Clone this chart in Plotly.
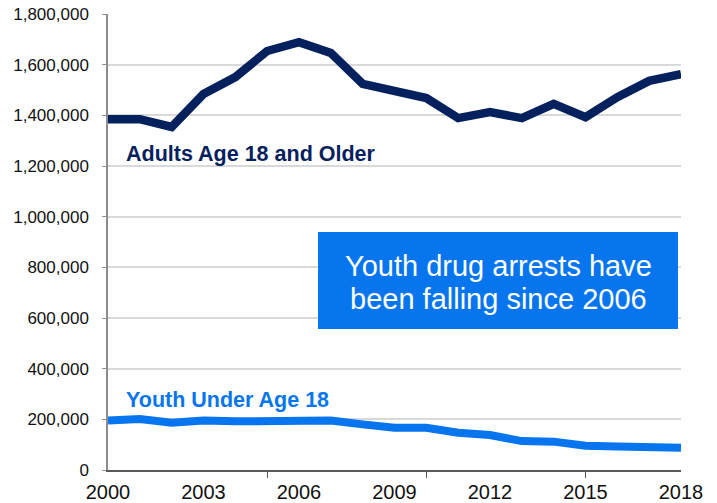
import plotly.graph_objects as go

years = list(range(2000, 2019))
adults = [1385000, 1385000, 1354000, 1484000, 1551000, 1654000, 1689000, 1646000,
          1524000, 1492000, 1468000, 1389000, 1413000, 1389000, 1445000, 1393000,
          1472000, 1536000, 1563000]
youth = [195000, 201000, 187000, 195000, 192000, 192000, 194000, 195000,
         180000, 167000, 167000, 147000, 138000, 114000, 112000, 96000,
         93000, 91000, 88000]
x_tick_vals = [2000, 2003, 2006, 2009, 2012, 2015, 2018]
x_minor_ticks = [2005, 2010, 2015]
y_tick_vals = list(range(0, 1800001, 200000))
y_tick_text = ["0"] + [f"{v:,}" for v in y_tick_vals[1:]]
box_lines = ["Youth drug arrests have", "been falling since 2006"]

navy = "#04215e"
blue = "#0675ee"
FONT = "Liberation Sans, Arial"

fig = go.Figure()
fig.add_trace(go.Scatter(x=years, y=adults, mode="lines",
                         line=dict(color=navy, width=8.5), showlegend=False,
                         name="Adults Age 18 and Older"))
fig.add_trace(go.Scatter(x=years, y=youth, mode="lines",
                         line=dict(color=blue, width=8), showlegend=False,
                         name="Youth Under Age 18"))

fig.add_annotation(x=2000.5, y=1247000, xref="x", yref="y", text="<b>Adults Age 18 and Older</b>",
                   showarrow=False, xanchor="left", yanchor="middle",
                   font=dict(family=FONT, size=21.5, color=navy))
fig.add_annotation(x=2000.5, y=276000, xref="x", yref="y", text="<b>Youth Under Age 18</b>",
                   showarrow=False, xanchor="left", yanchor="middle",
                   font=dict(family=FONT, size=21.5, color=blue))

fig.add_shape(type="rect", xref="paper", yref="paper",
              x0=(318 - 108) / 573, x1=(678 - 108) / 573,
              y0=(470 - 329) / 456, y1=(470 - 232) / 456,
              fillcolor=blue, line=dict(width=0), layer="above")
for line_text, py in zip(box_lines, [266, 299]):
    fig.add_annotation(xref="paper", yref="paper", x=(498 - 108) / 573, y=(470 - py) / 456,
                       text=line_text, showarrow=False, xanchor="center", yanchor="middle",
                       font=dict(family=FONT, size=29, color="white"))

fig.update_layout(
    width=717, height=503,
    margin=dict(l=108, r=36, t=14, b=33, autoexpand=False),
    paper_bgcolor="white", plot_bgcolor="white",
    font=dict(family=FONT, color="#111111"),
)
fig.update_xaxes(range=[2000, 2018], tickmode="array", tickvals=x_tick_vals,
                 ticktext=[str(v) for v in x_tick_vals], automargin=False,
                 showgrid=False, zeroline=False, showline=True, linecolor="#595959",
                 linewidth=1.5, ticks="", tickfont=dict(size=20, color="#111111"),
                 ticklabelstandoff=3,
                 minor=dict(tickmode="array", tickvals=x_minor_ticks, ticks="outside",
                            ticklen=6, tickcolor="#595959", showgrid=False))
fig.update_yaxes(range=[0, 1800000], tickmode="array", tickvals=y_tick_vals,
                 ticktext=y_tick_text, showgrid=True, gridcolor="#d9d9d9", gridwidth=1.5,
                 automargin=False,
                 zeroline=False, showline=True, linecolor="#8c8c8c", linewidth=1.5,
                 ticks="outside", ticklen=4, tickcolor="#8c8c8c",
                 tickfont=dict(size=17, color="#111111"), ticklabelstandoff=10)

fig.write_html("out.html", config={"displayModeBar": False},
               post_script="document.body.style.margin='0';")
